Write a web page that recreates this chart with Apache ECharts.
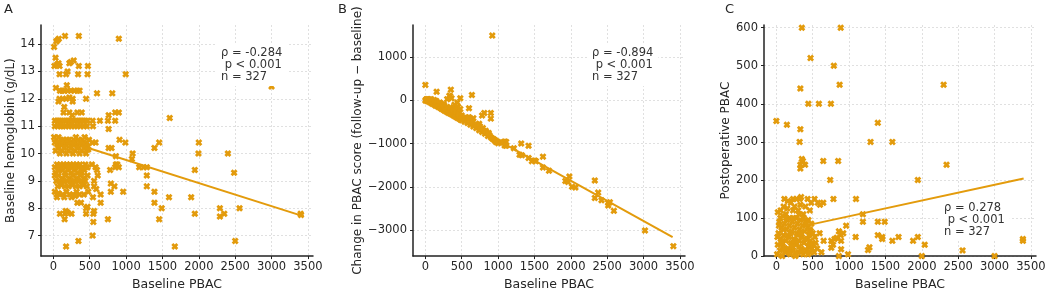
<!DOCTYPE html>
<html><head><meta charset="utf-8">
<script src="https://cdn.jsdelivr.net/npm/echarts@6/dist/echarts.min.js"></script>
<style>html,body{margin:0;padding:0;background:#fff}#c{width:1049px;height:296px}</style>
</head><body><div id="c"></div>
<script>
// ---- tick labels ----
const xTicks = [0, 500, 1000, 1500, 2000, 2500, 3000, 3500];
const yTicksA = [7, 8, 9, 10, 11, 12, 13, 14];
const yTicksB = [-3000, -2000, -1000, 0, 1000];
const yTicksC = [0, 100, 200, 300, 400, 500, 600];

// ---- titles / labels ----
const panelLabels = ['A', 'B', 'C'];
const xTitle = 'Baseline PBAC';
const yTitles = ['Baseline hemoglobin (g/dL)', 'Change in PBAC score (follow-up \u2212 baseline)', 'Postoperative PBAC'];
const statsA = ['\u03c1 = -0.284', ' p < 0.001', 'n = 327'];
const statsB = ['\u03c1 = -0.894', ' p < 0.001', 'n = 327'];
const statsC = ['\u03c1 = 0.278', ' p < 0.001', 'n = 327'];

// ---- Panel A: baseline PBAC vs baseline hemoglobin ----
const pointsA = [
[10,13.9],[40,14.1],[60,14.15],[75,14.2],[160,14.3],[350,14.3],[900,14.2],
[30,13.5],[15,13.2],[50,13.25],[70,13.3],[85,13.2],[220,13.3],[240,13.35],[280,13.4],[350,13.2],[475,13.2],
[85,12.9],[175,12.9],[195,13.0],[340,12.9],[470,12.9],[995,12.9],
[35,12.4],[185,12.5],[90,12.3],[120,12.3],[150,12.3],[200,12.3],[240,12.3],[290,12.3],[330,12.3],[360,12.3],[600,12.2],[810,12.2],
[85,12.0],[130,12.0],[175,12.0],[220,12.05],[265,12.0],[450,12.0],[70,11.9],[265,11.9],
[150,11.7],[140,11.5],[220,11.5],[330,11.5],[390,11.5],[260,11.4],
[20,11.2],[50,11.2],[80,11.2],[110,11.2],[140,11.2],[170,11.2],[200,11.2],[230,11.2],[260,11.2],[290,11.2],[320,11.2],[350,11.2],[380,11.2],[410,11.2],[440,11.2],[470,11.2],[540,11.2],[640,11.2],[750,11.2],[850,11.2],
[20,11.0],[60,11.0],[100,11.0],[130,11.0],[170,11.0],[210,11.0],[250,11.0],[290,11.0],[330,11.0],[370,11.0],[420,11.0],[460,11.0],[545,11.0],[760,10.9],[760,11.4],[850,11.5],[900,11.5],[1600,11.3],
[10,10.6],[40,10.5],[70,10.6],[100,10.5],[130,10.5],[160,10.4],[190,10.5],[220,10.5],[250,10.4],[280,10.5],[310,10.6],[340,10.5],[370,10.4],[400,10.5],[430,10.6],[460,10.4],[490,10.5],
[20,10.4],[55,10.35],[85,10.4],[115,10.3],[145,10.4],[175,10.3],[205,10.4],[235,10.3],[265,10.35],[295,10.4],[325,10.3],[355,10.4],[385,10.3],[415,10.35],[445,10.3],[475,10.25],
[30,10.1],[60,10.2],[90,10.0],[120,10.1],[150,10.2],[180,10.0],[210,10.1],[240,10.2],[270,10.0],[300,10.1],[330,10.2],[360,10.0],[390,10.1],[420,10.2],[450,10.0],[480,10.15],
[540,10.4],[580,10.4],[910,10.5],[990,10.4],[760,10.2],[800,10.2],[1390,10.2],[1455,10.4],[2000,10.4],[1995,10.0],[2400,10.0],[1090,10.0],[1080,9.8],[860,9.9],
[20,9.5],[50,9.6],[80,9.4],[110,9.5],[140,9.6],[170,9.5],[200,9.4],[230,9.6],[260,9.5],[290,9.4],[320,9.6],[350,9.5],[380,9.4],[410,9.5],[440,9.6],[470,9.5],
[30,9.3],[60,9.4],[95,9.6],[125,9.4],[155,9.3],[185,9.6],[215,9.5],[245,9.3],[275,9.6],[305,9.5],[335,9.3],[365,9.6],[395,9.3],[425,9.4],[455,9.5],
[20,9.2],[70,9.2],[120,9.1],[170,9.2],[220,9.1],[270,9.2],[320,9.1],[370,9.2],[420,9.1],[470,9.2],
[40,9.0],[90,9.0],[140,9.0],[190,9.0],[240,9.0],[290,9.0],[340,9.0],[390,9.0],[440,9.0],[560,9.0],[610,9.2],[600,9.4],[580,9.5],[530,9.6],
[60,8.8],[110,8.85],[160,8.8],[210,8.8],[260,8.85],[310,8.8],[360,8.8],[410,8.85],[460,8.8],[560,8.8],[590,8.7],
[20,8.6],[45,8.5],[70,8.55],[130,8.5],[180,8.6],[225,8.5],[270,8.5],[320,8.6],[360,8.5],[420,8.5],[480,8.6],[650,8.5],
[50,8.4],[150,8.4],[250,8.4],[300,8.45],[545,8.4],
[330,8.2],[380,8.2],[650,8.2],
[450,8.0],[470,8.05],[170,7.9],[190,7.85],[560,7.9],[90,7.8],[160,7.8],[250,7.8],[450,7.8],[550,7.8],
[155,7.6],[750,7.6],[550,7.5],[540,7.0],[345,6.8],[175,6.6],
[790,8.9],[790,8.6],[840,8.8],[960,8.6],[780,9.4],[860,9.6],[850,9.5],[900,9.5],[880,9.6],[1180,9.5],[1240,9.5],[1285,9.5],[1285,9.2],[1285,8.8],[1390,8.6],[1390,8.2],[1490,8.0],[1590,8.4],[1455,7.6],[1670,6.6],[1895,8.4],[1945,9.4],[1945,7.8],[2290,8.0],[2290,7.7],[2350,7.8],[2485,9.3],[2560,8.0],[2500,6.8],[3000,12.45],[3400,7.8],[3405,7.75]
];
const fitA = [[470, 10.21], [3400, 7.74]];

// ---- Panel B: baseline PBAC vs change ----
const pointsB = [
[920,1500],[0,360],[155,200],[350,250],[640,125],[480,50],[340,100],[600,-180],[780,-350],[810,-290],[900,-290],[900,-420],[660,-410],[440,-50],
[0,0],[10,20],[20,-10],[30,10],[40,-20],[50,0],[60,-40],[70,-10],[80,-60],[90,-30],[100,-80],[110,-40],[120,-90],[130,-50],[140,-120],[150,-60],[160,-130],[170,-90],[180,-150],[190,-100],[200,-170],[210,-120],[220,-190],[230,-130],[240,-210],[250,-150],[260,-230],[270,-170],[280,-250],[290,-180],[300,-270],[310,-200],[320,-290],[330,-220],[340,-300],[350,-230],[360,-320],[370,-250],[380,-340],[390,-270],[400,-360],[410,-290],[420,-380],[430,-300],[440,-400],[450,-330],[460,-420],[470,-350],[480,-440],[490,-370],[500,-460],[520,-420],[540,-490],[560,-450],[580,-520],[600,-500],[620,-560],[640,-520],[660,-600],[680,-560],[700,-640],[720,-620],[740,-690],[760,-660],[780,-730],[800,-700],[820,-770],[840,-740],[860,-820],[880,-800],[900,-850],[920,-880],[940,-900],[960,-920],[980,-950],[1000,-960],
[20,30],[60,20],[100,-20],[140,-20],[180,-60],[220,-80],[260,-120],[300,-150],[340,-160],[380,-200],[420,-250],[460,-300],[500,-350],[550,-400],[330,110],[360,50],[300,30],[400,-100],[450,-150],[480,-200],[200,-50],[250,-90],[150,-10],[120,10],[80,30],[40,30],[580,-400],[610,-450],[650,-480],[700,-550],[750,-600],[790,-640],[830,-700],[870,-750],[600,-390],[740,-540],
[1000,-990],[1040,-970],[1090,-950],[1090,-1040],[950,-920],[970,-960],
[1065,-974],[1111,-959],[1111,-1048],[1217,-1107],[1318,-996],[1419,-1048],[1295,-1256],[1327,-1270],[1419,-1330],[1465,-1404],[1502,-1389],[1520,-1404],[1617,-1300],[1617,-1552],[1700,-1627],[1925,-1864],[1962,-1886],[1980,-1760],[2017,-1998],[2063,-2012],[2330,-1850],[2376,-2131],[2330,-2257],[2422,-2309],[2514,-2369],[2514,-2428],[2537,-2354],[2592,-2554],[3020,-3007],[3410,-3370]
];
const fitB = [[0, 10], [3400, -3160]];

// ---- Panel C: baseline PBAC vs postoperative PBAC ----
const pointsC = [
[350,600],[885,600],[470,520],[790,500],[330,440],[870,450],[2300,450],[440,400],[585,400],[750,400],[0,355],[145,345],[330,333],[320,300],[1295,300],[1595,300],[1395,350],[2340,240],[1945,200],[740,200],[365,250],[330,240],[330,230],[395,240],[645,250],[850,250],[350,255],
[110,150],[160,145],[230,150],[280,150],[320,150],[340,155],[430,150],[525,150],[570,140],[600,135],[645,140],[785,150],[1095,150],
[100,130],[150,125],[200,140],[250,130],[300,120],[330,135],[370,110],[400,130],[460,120],[480,140],[270,100],[230,120],[130,110],[180,100],[310,110],[440,95],
[1190,110],[1190,90],[1395,90],[1490,90],[1395,55],[1455,50],[1455,45],[1595,40],[1680,50],[1880,40],[1945,50],[2040,30],[2300,50],[2560,15],[2000,0],[3000,0],[3390,45],[3390,40],[2400,100],[2490,70],
[1090,50],[960,80],[860,65],[885,55],[890,40],[830,48],[755,40],[755,22],[890,18],[860,0],[985,5],[650,40],[595,60],[480,30],[1260,16],[1280,23],[460,70],[780,30],[800,45],[920,60],[560,20],[530,50],[620,10],
[10,5],[20,30],[30,60],[40,90],[50,15],[60,45],[70,75],[80,0],[90,25],[100,55],[110,85],[120,10],[130,40],[140,70],[150,95],[160,20],[170,50],[180,80],[190,5],[200,35],[210,65],[220,90],[230,15],[240,45],[250,75],[260,0],[270,30],[280,60],[290,85],[300,10],[310,40],[320,70],[330,95],[340,20],[350,50],[360,80],[370,5],[380,35],[390,65],[400,90],[410,15],[420,45],[430,75],[440,25],[450,55],[460,10],[470,40],[480,85],[490,20],[500,60],
[15,50],[35,80],[55,100],[75,35],[95,70],[115,20],[135,100],[155,55],[175,10],[195,60],[215,25],[235,100],[255,40],[275,5],[295,55],[315,25],[335,60],[355,15],[375,100],[395,45],[415,85],[435,5],[455,30],[475,65],[505,30],[520,10],[540,35],[20,115],[60,120],[90,105]
];
const fitC = [[500, 84], [3400, 204]];

// ---- styles ----
const F = '"DejaVu Sans", sans-serif';
const ORANGE = '#E39B0C';
const TXT = '#262626';
const XMARK = 'path://M0,2.8 L2.8,0 L5,2.2 L7.2,0 L10,2.8 L7.8,5 L10,7.2 L7.2,10 L5,7.8 L2.8,10 L0,7.2 L2.2,5 Z';
const plain = v => String(v).replace('-', '\u2212');

const grids = [
  {left: 41, top: 25, width: 272, height: 240},
  {left: 413, top: 25, width: 272, height: 240},
  {left: 764, top: 25, width: 272, height: 241}
];
const yRanges = [[6.25, 14.7], [-3600, 1745], [0, 607]];
const yTickSets = [yTicksA, yTicksB, yTicksC];
const nameGaps = [22, 40, 30];

function xAxis(i) {
  return {
    type: 'value', gridIndex: i, min: -170, max: 3570,
    name: xTitle, nameLocation: 'middle', nameGap: 19,
    nameTextStyle: {fontSize: 12.5, color: TXT, fontFamily: F},
    axisLine: {show: true, onZero: false, lineStyle: {color: '#222', width: 1.5}},
    axisTick: {show: true, inside: false, length: 3, customValues: xTicks, lineStyle: {color: '#222'}},
    axisLabel: {customValues: xTicks, fontSize: 11.5, color: TXT, fontFamily: F, margin: 5, formatter: plain},
    splitLine: {show: true, lineStyle: {color: '#e0e0e0', type: [2, 2], width: 1}}
  };
}
function yAxis(i) {
  return {
    type: 'value', gridIndex: i, min: yRanges[i][0], max: yRanges[i][1],
    name: yTitles[i], nameLocation: 'middle', nameGap: nameGaps[i],
    nameTextStyle: {fontSize: 12, color: TXT, fontFamily: F},
    axisLine: {show: true, onZero: false, lineStyle: {color: '#222', width: 1.5}},
    axisTick: {show: true, inside: false, length: 3, customValues: yTickSets[i], lineStyle: {color: '#222'}},
    axisLabel: {customValues: yTickSets[i], fontSize: 11.5, color: TXT, fontFamily: F, margin: 6, formatter: plain},
    splitLine: {show: true, lineStyle: {color: '#e0e0e0', type: [2, 2], width: 1}}
  };
}
function scatter(i, pts) {
  return {type: 'scatter', xAxisIndex: i, yAxisIndex: i, data: pts, symbol: XMARK, symbolSize: 7,
    itemStyle: {color: ORANGE, opacity: 1}, z: 3, silent: true, clip: true};
}
function fit(i, pts) {
  return {type: 'line', xAxisIndex: i, yAxisIndex: i, data: pts, showSymbol: false, symbol: 'none',
    lineStyle: {color: ORANGE, width: 2}, z: 2, silent: true};
}
function statBox(x, y, lines) {
  return {type: 'text', x: x, y: y, z: 100,
    style: {text: lines.join('\n'), font: '11.5px ' + F, fill: '#333', lineHeight: 12,
      backgroundColor: '#fff', padding: [3, 5]}};
}
function panelLabel(x, y, t) {
  return {type: 'text', x: x, y: y, z: 100, style: {text: t, font: '13px ' + F, fill: TXT}};
}

const chart = echarts.init(document.getElementById('c'), null, {renderer: 'canvas'});
chart.setOption({
  animation: false,
  backgroundColor: '#fff',
  grid: grids,
  xAxis: [xAxis(0), xAxis(1), xAxis(2)],
  yAxis: [yAxis(0), yAxis(1), yAxis(2)],
  series: [fit(0, fitA), scatter(0, pointsA), fit(1, fitB), scatter(1, pointsB), fit(2, fitC), scatter(2, pointsC)],
  graphic: [
    panelLabel(4, 3, panelLabels[0]), panelLabel(338, 3, panelLabels[1]), panelLabel(725, 3, panelLabels[2]),
    statBox(216, 44, statsA), statBox(587, 44, statsB), statBox(939, 199, statsC)
  ]
});
</script>
</body></html>
